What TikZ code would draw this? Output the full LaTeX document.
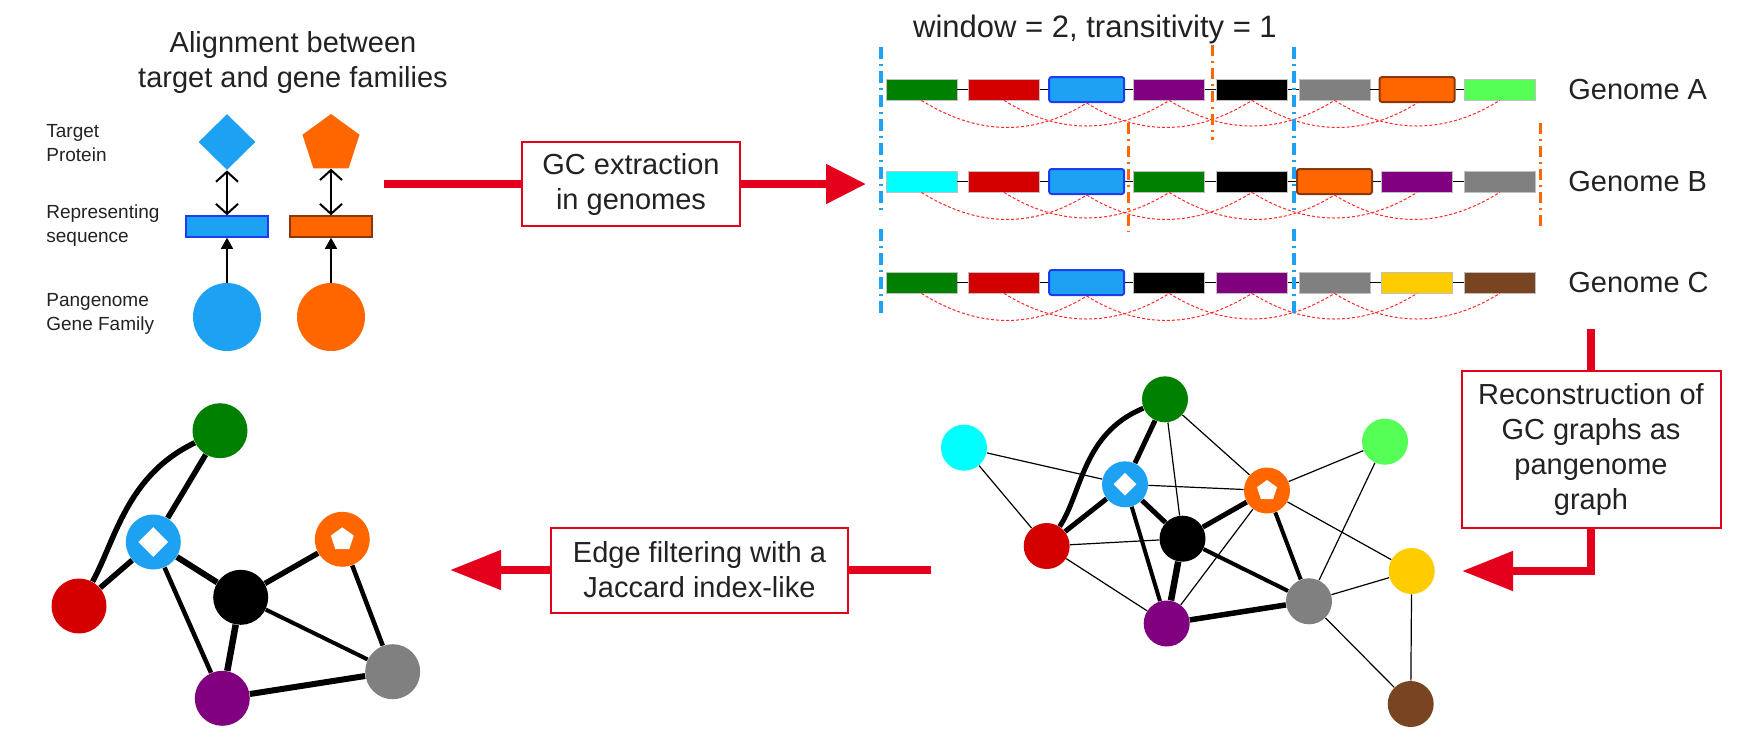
\documentclass[tikz,border=0pt]{standalone}
\usepackage{fontspec}
\setmainfont{Liberation Sans}
\usetikzlibrary{shapes.geometric,arrows.meta}

\newlength{\du}
\setlength{\du}{0.5pt}
\newcommand{\txtbig}{\fontsize{14.5}{17.5}\selectfont}
\newcommand{\txtsmall}{\fontsize{9.5}{12}\selectfont}
\pgfdeclarelayer{background}
\pgfsetlayers{background,main}

% arrow tip sizes are in pt (1\du = 0.5pt)
\tikzset{
  gene/.style={rectangle, inner sep=0pt, minimum width=71\du, minimum height=21\du, draw=black!25, line width=0.8\du},
  hitBlue/.style={rectangle, rounded corners=2.5\du, inner sep=0pt, minimum width=75\du, minimum height=25\du, draw=hlBlue, line width=2\du},
  hitOrange/.style={hitBlue, draw=hlOrange},
  link/.style={draw=black, line width=1.2\du},
  hop/.style={draw=hopRed, line width=1\du, dash pattern=on 3\du off 2\du},
  cutBlue/.style={draw=gBlue, line width=4\du, dash pattern=on 12\du off 5\du on 2\du off 5\du},
  cutOrange/.style={draw=gOrange, line width=3\du, dash pattern=on 11\du off 5\du on 2\du off 5\du},
  stepBox/.style={draw=flowRed, line width=2\du, fill=white, inner sep=0pt, align=center, font=\txtbig, text=txtGray},
  flow/.style={draw=flowRed, line width=8\du},
  flowTip/.style={flow, -{Triangle[length=#1,width=19pt]}},
  flowTip/.default=25.5pt,
  pairArrow/.style={draw=black, line width=2\du, {Straight Barb[length=5pt,width=11pt]}-{Straight Barb[length=5pt,width=11pt]}},
  mapArrow/.style={draw=black, line width=1.5\du, -{Triangle[length=5.5pt,width=6pt]}},
  fam/.style={circle, inner sep=0pt, minimum size=46\du},
  famBig/.style={circle, inner sep=0pt, minimum size=55\du},
  edge/.style={draw=black, line width=#1},
  edge/.default=1.2\du,
  label/.style={anchor=west, inner sep=0pt, align=left, font=\txtsmall, text=txtGray},
  genomeName/.style={anchor=west, inner sep=0pt, font=\txtbig, text=txtGray},
}

\begin{document}
\begin{tikzpicture}
\pgftransformxscale{1.000000}
\pgftransformyscale{-1.000000}
\definecolor{gGreen}{rgb}{0.000000, 0.501961, 0.000000}
\definecolor{gRed}{rgb}{0.831373, 0.000000, 0.000000}
\definecolor{gBlue}{rgb}{0.113725, 0.631373, 0.949020}
\definecolor{gPurple}{rgb}{0.501961, 0.000000, 0.501961}
\definecolor{gBlack}{rgb}{0.000000, 0.000000, 0.000000}
\definecolor{gGray}{rgb}{0.501961, 0.501961, 0.501961}
\definecolor{gOrange}{rgb}{1.000000, 0.400000, 0.000000}
\definecolor{gLime}{rgb}{0.333333, 1.000000, 0.333333}
\definecolor{gCyan}{rgb}{0.000000, 1.000000, 1.000000}
\definecolor{gYellow}{rgb}{1.000000, 0.800000, 0.000000}
\definecolor{gBrown}{rgb}{0.470588, 0.266667, 0.129412}
\definecolor{hlBlue}{rgb}{0.117647, 0.235294, 0.941176}
\definecolor{hlOrange}{rgb}{0.549020, 0.215686, 0.039216}
\definecolor{hopRed}{rgb}{1.000000, 0.156863, 0.156863}
\definecolor{flowRed}{rgb}{0.894118, 0.000000, 0.109804}
\definecolor{txtGray}{rgb}{0.133333, 0.133333, 0.133333}
\useasboundingbox (0\du,0\du) rectangle (1753\du,746\du);

% alignment between target and gene families
\node[font=\txtbig, align=center, text=txtGray] (alnTitle) at (293\du,62\du) {Alignment between\\target and gene families};
\node[label] (lblTarget) at (46\du,143\du) {Target\\Protein};
\node[label] (lblSeq) at (46\du,226\du) {Representing\\sequence};
\node[label] (lblFam) at (46\du,314\du) {Pangenome\\Gene Family};
\node[diamond, fill=gBlue, inner sep=0pt, minimum width=57\du, minimum height=56\du] (protBlue) at (227\du,142\du) {};
\node[regular polygon, regular polygon sides=5, fill=gOrange, inner sep=0pt, minimum size=60\du] (protOrange) at (331\du,144\du) {};
\node[rectangle, fill=gBlue, draw=hlBlue, line width=1.5\du, inner sep=0pt, minimum width=82\du, minimum height=21\du] (seqBlue) at (227\du,226.5\du) {};
\node[rectangle, fill=gOrange, draw=hlOrange, line width=1.5\du, inner sep=0pt, minimum width=82\du, minimum height=21\du] (seqOrange) at (331\du,226.5\du) {};
\node[circle, fill=gBlue, inner sep=0pt, minimum size=68\du] (famBlue) at (227\du,317\du) {};
\node[circle, fill=gOrange, inner sep=0pt, minimum size=68\du] (famOrange) at (331\du,317\du) {};
\draw[pairArrow] (protBlue.south) -- (seqBlue.north);
\draw[pairArrow] (protOrange.south) -- (seqOrange.north);
\draw[mapArrow] (famBlue.north) -- (seqBlue.south);
\draw[mapArrow] (famOrange.north) -- (seqOrange.south);

% gene contexts in the genomes
\node[anchor=base, font=\fontsize{15.5}{18}\selectfont, text=txtGray] (winTitle) at (1095\du,37\du) {window = 2, transitivity = 1};
\foreach \col/\kind [count=\i from 0] in {gGreen/gene,gRed/gene,gBlue/hitBlue,gPurple/gene,gBlack/gene,gGray/gene,gOrange/hitOrange,gLime/gene}
  \node[\kind, fill=\col] (a\i) at ({(921.5+82.6*\i)*\du},89.5\du) {};
\foreach \col/\kind [count=\i from 0] in {gCyan/gene,gRed/gene,gBlue/hitBlue,gGreen/gene,gBlack/gene,gOrange/hitOrange,gPurple/gene,gGray/gene}
  \node[\kind, fill=\col] (b\i) at ({(921.5+82.6*\i)*\du},181.5\du) {};
\foreach \col/\kind [count=\i from 0] in {gGreen/gene,gRed/gene,gBlue/hitBlue,gBlack/gene,gPurple/gene,gGray/gene,gYellow/gene,gBrown/gene}
  \node[\kind, fill=\col] (c\i) at ({(921.5+82.6*\i)*\du},282.5\du) {};
\foreach \r in {a,b,c} {
  \foreach \i [evaluate=\i as \j using int(\i+1)] in {0,...,6}
    \draw[link] (\r\i.east) -- (\r\j.west);
  \foreach \i [evaluate=\i as \k using int(\i+2)] in {0,...,5}
    \draw[hop] (\r\i.south) to[out=32,in=148] (\r\k.south);
}
\node[genomeName] (gA) at (1568\du,89.5\du) {Genome A};
\node[genomeName] (gB) at (1568\du,181.5\du) {Genome B};
\node[genomeName] (gC) at (1568\du,282.5\du) {Genome C};
\draw[cutBlue] (881\du,47\du) -- (881\du,215\du);
\draw[cutBlue] (881\du,229\du) -- (881\du,316\du);
\draw[cutBlue] (1294\du,47\du) -- (1294\du,215\du);
\draw[cutBlue] (1294\du,229\du) -- (1294\du,316\du);
\draw[cutOrange] (1212\du,45\du) -- (1212\du,140\du);
\draw[cutOrange] (1128\du,123\du) -- (1128\du,232\du);
\draw[cutOrange] (1540\du,123\du) -- (1540\du,230\du);

% steps
\node[stepBox, minimum width=218\du, minimum height=84\du] (gcBox) at (631\du,184\du) {GC extraction\\in genomes};
\coordinate (gcStart) at (384\du,184\du);
\coordinate (gcTip) at (866\du,184\du);
\draw[flow] (gcStart) -- (gcBox.west);
\draw[flowTip=20pt] (gcBox.east) -- (gcTip);
\node[stepBox, minimum width=259\du, minimum height=157\du] (rcBox) at (1591\du,449.5\du) {Reconstruction of\\GC graphs as\\pangenome\\graph};
\coordinate (rcStart) at (1591\du,329\du);
\coordinate (rcTip) at (1462\du,571\du);
\draw[flow] (rcStart) -- (rcBox.north);
\draw[flowTip] (rcBox.south) |- (rcTip);
\node[stepBox, minimum width=297\du, minimum height=85\du] (efBox) at (699.5\du,570\du) {Edge filtering with a\\Jaccard index-like};
\coordinate (efStart) at (931\du,570\du);
\coordinate (efTip) at (450\du,570\du);
\draw[flow] (efStart) -- (efBox.east);
\draw[flowTip] (efBox.west) -- (efTip);

% pangenome graph
\node[fam, fill=gCyan] (rCyan) at (964\du,447.7\du) {};
\node[fam, fill=gGreen] (rGreen) at (1165\du,399.3\du) {};
\node[fam, fill=gBlue] (rBlue) at (1125\du,484.3\du) {};
\node[fam, fill=gRed] (rRed) at (1046.7\du,546\du) {};
\node[fam, fill=gBlack] (rBlack) at (1182.5\du,538.7\du) {};
\node[fam, fill=gOrange] (rOrange) at (1267\du,490.5\du) {};
\node[fam, fill=gPurple] (rPurple) at (1166.7\du,623.5\du) {};
\node[fam, fill=gGray] (rGray) at (1309\du,601.3\du) {};
\node[fam, fill=gLime] (rLime) at (1385\du,441.7\du) {};
\node[fam, fill=gYellow] (rYellow) at (1411.7\du,571\du) {};
\node[fam, fill=gBrown] (rBrown) at (1410.7\du,704\du) {};
\node[diamond, fill=white, inner sep=0pt, minimum size=23\du] (rBlueMark) at (rBlue) {};
\node[regular polygon, regular polygon sides=5, fill=white, inner sep=0pt, minimum size=21\du] (rOrangeMark) at (rOrange) {};
\begin{pgfonlayer}{background}
\draw[edge] (rCyan) -- (rBlue);
\draw[edge] (rCyan) -- (rRed);
\draw[edge] (rGreen) -- (rBlack);
\draw[edge] (rGreen) -- (rOrange);
\draw[edge] (rBlue) -- (rOrange);
\draw[edge] (rRed) -- (rBlack);
\draw[edge] (rRed) -- (rPurple);
\draw[edge] (rPurple) -- (rOrange);
\draw[edge] (rOrange) -- (rLime);
\draw[edge] (rOrange) -- (rYellow);
\draw[edge] (rLime) -- (rGray);
\draw[edge] (rGray) -- (rYellow);
\draw[edge] (rGray) -- (rBrown);
\draw[edge] (rYellow) -- (rBrown);
\draw[edge=5\du] (rGreen) -- (rBlue);
\draw[edge=5\du] (rGreen) to[out=143,in=-70] (rRed);
\draw[edge=5\du] (rBlue) -- (rRed);
\draw[edge=5\du] (rBlue) -- (rBlack);
\draw[edge=4\du] (rBlue) -- (rPurple);
\draw[edge=6.5\du] (rBlack) -- (rPurple);
\draw[edge=5\du] (rBlack) -- (rOrange);
\draw[edge=4\du] (rBlack) -- (rGray);
\draw[edge=4\du] (rOrange) -- (rGray);
\draw[edge=5.5\du] (rPurple) -- (rGray);
\end{pgfonlayer}

% filtered graph
\node[famBig, fill=gGreen] (lGreen) at (220\du,430.7\du) {};
\node[famBig, fill=gBlue] (lBlue) at (153.3\du,542\du) {};
\node[famBig, fill=gRed] (lRed) at (79\du,606\du) {};
\node[famBig, fill=gBlack] (lBlack) at (240.7\du,597.3\du) {};
\node[famBig, fill=gOrange] (lOrange) at (342.3\du,539.3\du) {};
\node[famBig, fill=gPurple] (lPurple) at (222.3\du,698.3\du) {};
\node[famBig, fill=gGray] (lGray) at (392.7\du,671.7\du) {};
\node[diamond, fill=white, inner sep=0pt, minimum size=30\du] (lBlueMark) at (lBlue) {};
\node[regular polygon, regular polygon sides=5, fill=white, inner sep=0pt, minimum size=24\du] (lOrangeMark) at (lOrange) {};
\begin{pgfonlayer}{background}
\draw[edge=5.5\du] (lGreen) to[out=139,in=-73] (lRed);
\draw[edge=5.5\du] (lGreen) -- (lBlue);
\draw[edge=5.5\du] (lBlue) -- (lRed);
\draw[edge=6\du] (lBlue) -- (lBlack);
\draw[edge=4.5\du] (lBlue) -- (lPurple);
\draw[edge=5.5\du] (lBlack) -- (lOrange);
\draw[edge=6.5\du] (lBlack) -- (lPurple);
\draw[edge=4\du] (lBlack) -- (lGray);
\draw[edge=4.5\du] (lOrange) -- (lGray);
\draw[edge=6\du] (lPurple) -- (lGray);
\end{pgfonlayer}
\end{tikzpicture}
\end{document}
